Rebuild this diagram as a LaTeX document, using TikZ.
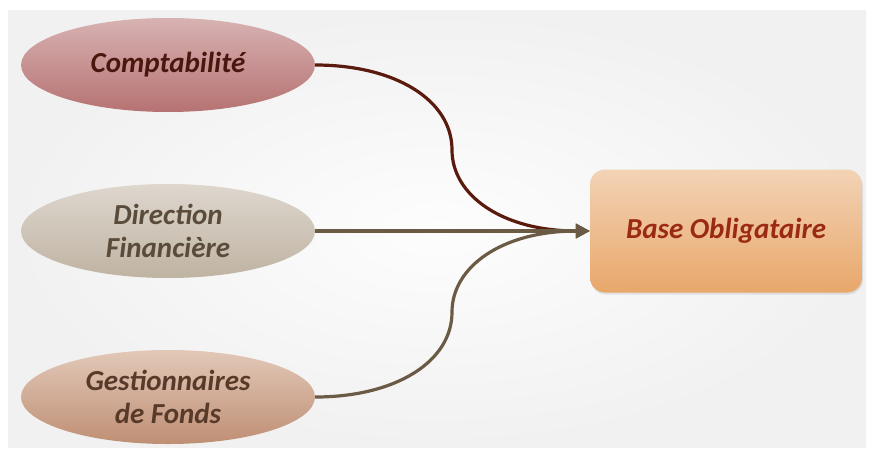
\documentclass[tikz,border=0pt]{standalone}
\usepackage{fontspec}
\setmainfont{Carlito}
\usetikzlibrary{shapes.geometric,arrows.meta,shadows}

\definecolor{bginner}{HTML}{FDFDFD}
\definecolor{bgouter}{HTML}{F1F1F1}
\definecolor{comptaTop}{HTML}{D8B2B2}
\definecolor{comptaBot}{HTML}{B67272}
\definecolor{dirTop}{HTML}{DED7CE}
\definecolor{dirBot}{HTML}{BFB3A2}
\definecolor{gestTop}{HTML}{E2C8B8}
\definecolor{gestBot}{HTML}{BF8F74}
\definecolor{boxTop}{HTML}{F3D3B6}
\definecolor{boxBot}{HTML}{E8A76A}
\definecolor{comptaText}{HTML}{4A170F}
\definecolor{dirText}{HTML}{5A4B3B}
\definecolor{gestText}{HTML}{583A2A}
\definecolor{boxText}{HTML}{9A2A12}
\definecolor{comptaLine}{HTML}{5A1A0E}
\definecolor{brownLine}{HTML}{6B5B44}

\begin{document}
\begin{tikzpicture}[x=1pt,y=-1pt,
  unit/.style={ellipse, minimum width=294pt, minimum height=94pt, inner sep=0pt,
    align=center, font=\fontsize{29}{33}\selectfont\bfseries\itshape},
  target/.style={rounded corners=15pt, minimum width=272pt, minimum height=123pt,
    top color=boxTop, bottom color=boxBot, text=boxText,
    font=\fontsize{29}{33}\selectfont\bfseries\itshape,
    drop shadow={opacity=0.18, shadow xshift=1pt, shadow yshift=-2pt}},
  link/.style={line width=3.2pt, -{Triangle[length=14pt,width=14pt]}}
]
\useasboundingbox (0,0) rectangle (874,452);
\fill[white] (0,0) rectangle (874,452);
\shade[inner color=bginner, outer color=bgouter] (8,11) rectangle (866,447);

% source units
\node[unit, top color=comptaTop, bottom color=comptaBot, text=comptaText]
  (compta) at (168,65) {Comptabilité};
\node[unit, top color=dirTop, bottom color=dirBot, text=dirText]
  (dir) at (168,231) {Direction\\Financière};
\node[unit, top color=gestTop, bottom color=gestBot, text=gestText]
  (gest) at (168,397) {Gestionnaires\\de Fonds};

% target
\node[target] (base) at (726,231) {Base Obligataire};

% turning points of the S-shaped connectors
\coordinate (upperTurn) at (452,150);
\coordinate (lowerTurn) at (452,312);

% connectors
\draw[link, color=comptaLine] (compta.east) .. controls +(80,0) and +(0,-50) .. (upperTurn)
  .. controls +(0,45) and +(-88,0) .. (base.west);
\draw[link, color=brownLine] (gest.east) .. controls +(80,0) and +(0,50) .. (lowerTurn)
  .. controls +(0,-45) and +(-88,0) .. (base.west);
\draw[link, color=brownLine, line width=4pt] (dir.east) -- (base.west);
\end{tikzpicture}
\end{document}
